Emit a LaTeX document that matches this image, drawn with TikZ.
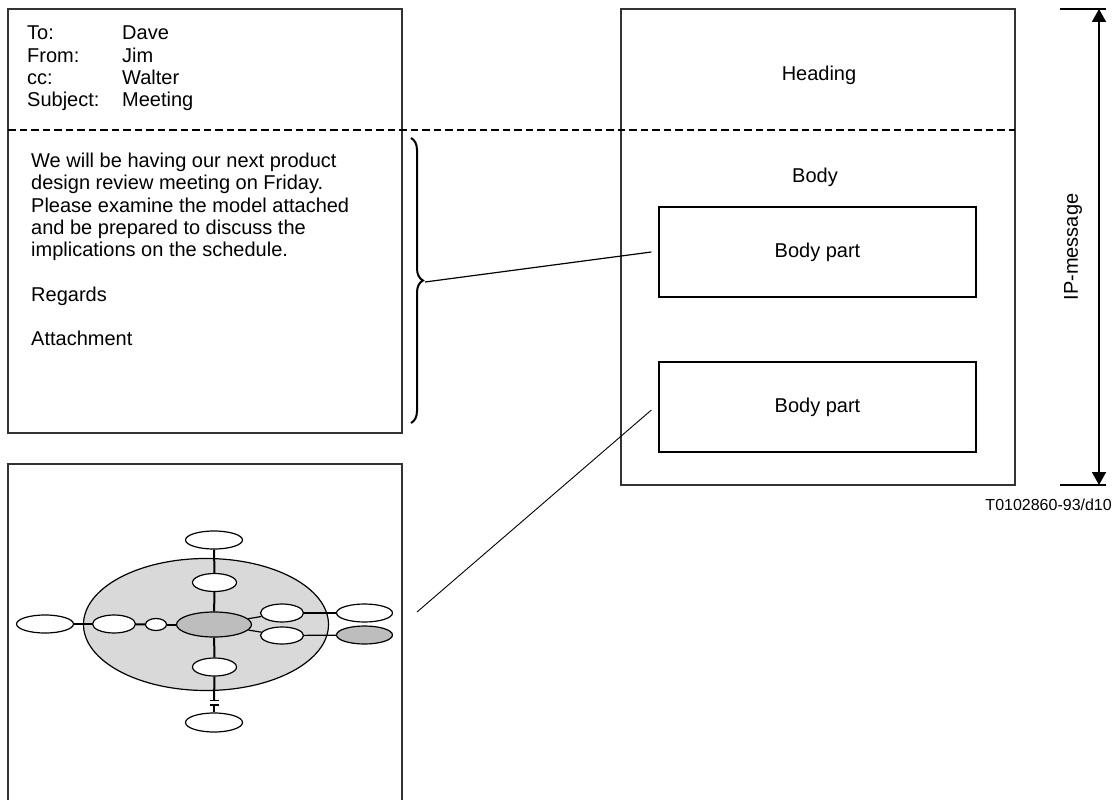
\documentclass[tikz,border=0pt]{standalone}
\usepackage{fontspec}
\setmainfont{Liberation Sans}
\usetikzlibrary{shapes.geometric,arrows.meta,decorations.pathreplacing}
\newcommand{\fsmain}{\fontsize{20}{22.3}\selectfont}
\newcommand{\fssmall}{\fontsize{16}{18}\selectfont}
\begin{document}
\begin{tikzpicture}[x=1pt,y=-1pt,
  frame/.style={draw=black!80,line width=1.2pt,inner sep=0,rectangle},
  partbox/.style={draw=black,line width=1.2pt,inner sep=0,rectangle,minimum width=317pt,minimum height=90pt,font=\fsmain},
  txt/.style={inner sep=0,anchor=base west,font=\fsmain},
  ctxt/.style={inner sep=0,anchor=base,font=\fsmain},
  ell/.style={draw=black,ellipse,line width=1.2pt,fill=white,inner sep=0},
  conn/.style={line width=2pt},
  thinconn/.style={line width=1.2pt}]
\useasboundingbox (0,0) rectangle (1120,800);
\fill[white] (0,0) rectangle (1120,800);

% ---------- frames ----------
\node[frame,minimum width=394pt,minimum height=424pt] (mail) at (205,221) {};
\node[frame,minimum width=394pt,minimum height=346pt] (attach) at (205,637) {};
\node[frame,minimum width=394pt,minimum height=476pt] (ipm) at (818,247) {};

% ---------- header text ----------
\node[txt] (h1a) at (27,40) {To:};
\node[txt] (h1b) at (122,40) {Dave};
\node[txt] (h2a) at (27,62.3) {From:};
\node[txt] (h2b) at (122,62.3) {Jim};
\node[txt] (h3a) at (27,84.6) {cc:};
\node[txt] (h3b) at (122,84.6) {Walter};
\node[txt] (h4a) at (27,106.9) {Subject:};
\node[txt] (h4b) at (122,106.9) {Meeting};

% ---------- body text ----------
\node[txt] (b1) at (31,167.5) {We will be having our next product};
\node[txt] (b2) at (31,189.8) {design review meeting on Friday.};
\node[txt] (b3) at (31,212.1) {Please examine the model attached};
\node[txt] (b4) at (31,234.4) {and be prepared to discuss the};
\node[txt] (b5) at (31,256.7) {implications on the schedule.};
\node[txt] (b6) at (31,301.3) {Regards};
\node[txt] (b7) at (31,345.9) {Attachment};

% ---------- dashed separator ----------
\coordinate (dashL) at (8,130);
\coordinate (dashR) at (1015,130);
\draw[line width=2pt,dash pattern=on 7.5pt off 4pt] (dashL) -- (dashR);

% ---------- right side ----------
\node[ctxt] (heading) at (819,81) {Heading};
\node[ctxt] (body) at (815,182.6) {Body};
\node[partbox] (bp1) at (817.5,252) {Body part};
\node[partbox] (bp2) at (817.5,407) {Body part};

% ---------- brace and connectors ----------
\coordinate (brTop) at (411,138);
\coordinate (brBot) at (411,423);
\draw[line width=2pt,decorate,decoration={brace,amplitude=12pt}] (brTop) -- (brBot);
\coordinate (brTip) at (425,282);
\draw[line width=1.2pt] (brTip) -- ([xshift=-7pt]bp1.west);
\coordinate (attEnd) at (417,612);
\draw[line width=0.9pt] ([xshift=-7pt,yshift=-3pt]bp2.west) -- (attEnd);

% ---------- IP-message dimension arrow ----------
\coordinate (arTop) at (1099,9);
\coordinate (arBot) at (1099,485);
\coordinate (tkTopL) at (1060,9);
\coordinate (tkTopR) at (1106,9);
\coordinate (tkBotL) at (1060,485);
\coordinate (tkBotR) at (1106,485);
\draw[line width=2pt] (tkTopL) -- (tkTopR);
\draw[line width=2pt] (tkBotL) -- (tkBotR);
\draw[line width=1.8pt,{Triangle[width=14pt,length=13pt]}-{Triangle[width=14pt,length=13pt]}] (arTop) -- (arBot);
\node[inner sep=0,rotate=90,font=\fsmain] (iplabel) at (1073,247) {IP-message};
\node[inner sep=0,anchor=base east,font=\fssmall] (code) at (1112,510) {T0102860-93/d10};

% ---------- attachment model ----------
\node[ell,fill=black!15,minimum width=245pt,minimum height=132pt] (big) at (206,624.5) {};
\node[ell,minimum width=57pt,minimum height=18pt] (top) at (214,540) {};
\node[ell,minimum width=44pt,minimum height=18pt] (sec) at (214.5,582.5) {};
\node[ell,fill=black!26,minimum width=75pt,minimum height=25pt] (core) at (214,624.5) {};
\node[ell,minimum width=57pt,minimum height=18pt] (lout) at (45,624) {};
\node[ell,minimum width=43pt,minimum height=18pt] (lin) at (114,624) {};
\node[ell,minimum width=21pt,minimum height=12pt] (dot) at (156,624.5) {};
\node[ell,minimum width=43pt,minimum height=18pt] (rui) at (282,613) {};
\node[ell,minimum width=43pt,minimum height=17pt] (rli) at (282,635.5) {};
\node[ell,minimum width=56pt,minimum height=18pt] (ruo) at (364.5,613) {};
\node[ell,fill=black!26,minimum width=56pt,minimum height=18pt] (rlo) at (364.5,635) {};
\node[ell,minimum width=44pt,minimum height=18pt] (bin) at (214.5,667) {};
\node[ell,minimum width=57pt,minimum height=19pt] (bout) at (214,722.5) {};

\draw[conn] (top) -- (sec);
\draw[conn] (sec) -- (core);
\draw[conn] (core) -- (bin);
\draw[conn] (lout) -- (lin);
\draw[conn] (lin) -- (dot);
\draw[conn] (dot) -- (core);
\draw[thinconn] (core) -- (rui);
\draw[thinconn] (core) -- (rli);
\draw[thinconn] (rui) -- (ruo);
\draw[thinconn] (rli) -- (rlo);
\coordinate (capA) at (214,700.5);
\coordinate (capB) at (214,705);
\draw[conn] (bin.south) -- (capA);
\draw[conn] (capB) -- (bout.north);
\draw[line width=1.6pt] ([xshift=-4.5pt]capA) -- ([xshift=4.5pt]capA);
\draw[line width=1.6pt] ([xshift=-4.5pt]capB) -- ([xshift=4.5pt]capB);
\end{tikzpicture}
\end{document}
